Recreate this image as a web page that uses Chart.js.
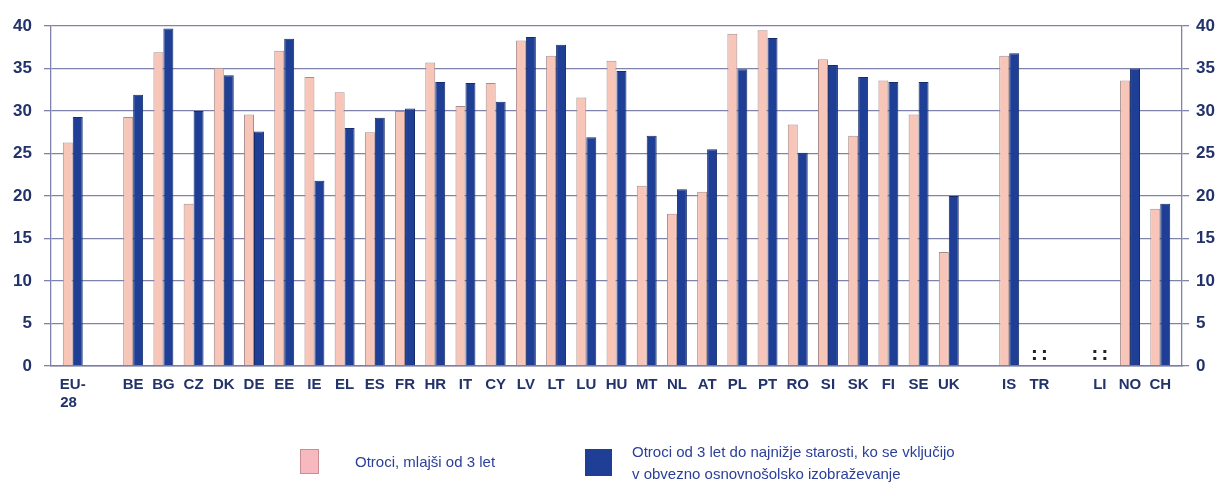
<!DOCTYPE html>
<html>
<head>
<meta charset="utf-8">
<script src="https://cdn.jsdelivr.net/npm/chart.js@4/dist/chart.umd.min.js"></script>
<style>
  html, body { margin: 0; padding: 0; background: #fff; }
  #wrap { position: relative; width: 1225px; height: 482px; overflow: hidden; }
  #chart { position: absolute; left: 0; top: 0; }
  .legend-box { position: absolute; box-sizing: border-box; }
  .legend-text { position: absolute; font-family: "Liberation Sans", Arial, sans-serif; font-size: 15px; color: #2b3f99; line-height: 22px; white-space: nowrap; }
</style>
</head>
<body>
<div id="wrap">
  <canvas id="chart" width="1225" height="482"></canvas>
  <div class="legend-box" style="left:300px; top:449px; width:19px; height:25px; background:#f7b9bd; border:1px solid #c98d95;"></div>
  <div class="legend-text" style="left:355px; top:451px;">Otroci, mlajši od 3 let</div>
  <div class="legend-box" style="left:585px; top:449px; width:27px; height:27px; background:#1f3f96;"></div>
  <div class="legend-text" style="left:632px; top:441px;">Otroci od 3 let do najnižje starosti, ko se vključijo<br>v obvezno osnovnošolsko izobraževanje</div>
</div>
<script>
// categories ("" = empty slot between groups)
const countries = [
  ["EU-", "28  "], "", "BE", "BG", "CZ", "DK", "DE", "EE", "IE", "EL", "ES", "FR", "HR", "IT", "CY",
  "LV", "LT", "LU", "HU", "MT", "NL", "AT", "PL", "PT", "RO", "SI", "SK", "FI", "SE", "UK",
  "", "IS", "TR", "", "LI", "NO", "CH"
];

// otroci, mlajši od 3 let
const under3 = [
  26.3, null, 29.3, 36.9, 19.1, 35.1, 29.6, 37.1, 34.0, 32.2, 27.5, 30.0, 35.7, 30.6, 33.3,
  38.3, 36.5, 31.6, 35.9, 21.2, 17.9, 20.5, 39.1, 39.5, 28.4, 36.1, 27.1, 33.6, 29.6, 13.4,
  null, 36.5, null, null, null, 33.6, 18.5
];

// otroci od 3 let do vstopa v obvezno osnovnošolsko izobraževanje
const from3 = [
  29.3, null, 31.9, 39.7, 30.0, 34.2, 27.6, 38.5, 21.8, 28.0, 29.2, 30.3, 33.4, 33.3, 31.1,
  38.7, 37.8, 26.9, 34.7, 27.1, 20.8, 25.5, 34.9, 38.6, 25.1, 35.4, 34.0, 33.4, 33.4, 20.0,
  null, 36.8, null, null, null, 35.0, 19.1
];

// countries with no data (":")
const notAvailable = ["TR", "LI"];

const yTicks = [0, 5, 10, 15, 20, 25, 30, 35, 40];

const TICK_COLOR = "#22326a";
const GRID_COLOR = "#7f83ab";
const FONT = "'Liberation Sans', Arial, sans-serif";

// bars sit on a numeric x axis so the plot can keep a little space at both ends
const toPoints = (arr) => arr.map((v, i) => ({ x: i, y: v }));

// draws the ": :" marks for missing data
const missingMarks = {
  id: "missingMarks",
  afterDatasetsDraw(chart) {
    const ctx = chart.ctx;
    const x = chart.scales.x;
    const y = chart.scales.y;
    ctx.save();
    ctx.fillStyle = "#222";
    countries.forEach((c, i) => {
      if (!notAvailable.includes(c)) return;
      const px = x.getPixelForValue(i);
      const py = y.getPixelForValue(0) - 11;
      [-5, 5].forEach((dx) => {
        [-3.5, 3.5].forEach((dy) => {
          ctx.fillRect(px + dx - 1.5, py + dy - 1.5, 3, 3);
        });
      });
    });
    ctx.restore();
  },
};

const ctx = document.getElementById("chart").getContext("2d");
new Chart(ctx, {
  type: "bar",
  data: {
    datasets: [
      {
        label: "Otroci, mlajši od 3 let",
        data: toPoints(under3),
        backgroundColor: "#f8c5b9",
        borderColor: "#a98c8a",
        borderWidth: 1,
        categoryPercentage: 0.66,
        barPercentage: 1.0,
      },
      {
        label: "Otroci od 3 let do najnižje starosti, ko se vključijo v obvezno osnovnošolsko izobraževanje",
        data: toPoints(from3),
        backgroundColor: "#1f3f96",
        borderColor: "#172c6a",
        borderWidth: 1,
        categoryPercentage: 0.66,
        barPercentage: 1.0,
      },
    ],
  },
  options: {
    responsive: false,
    animation: false,
    layout: { padding: { top: 26, left: 0, right: 0, bottom: 0 } },
    plugins: { legend: { display: false }, tooltip: { enabled: false } },
    scales: {
      x: {
        type: "linear",
        min: -0.72,
        max: countries.length - 1 + 0.72,
        offset: false,
        afterBuildTicks(scale) { scale.ticks = countries.map((c, i) => ({ value: i })); },
        grid: { display: false, drawTicks: false },
        border: { display: true, color: "#7a7d9c", width: 1.5 },
        ticks: {
          autoSkip: false,
          maxRotation: 0,
          minRotation: 0,
          padding: 10,
          color: TICK_COLOR,
          font: { family: FONT, size: 15, weight: "bold" },
          callback: (value) => countries[value],
        },
        afterFit(scale) { scale.height = 116; },
      },
      y: {
        position: "left",
        min: 0,
        max: 40,
        afterBuildTicks(scale) { scale.ticks = yTicks.map((v) => ({ value: v })); },
        grid: { color: GRID_COLOR, lineWidth: 1.3, tickLength: 7 },
        border: { display: true, color: GRID_COLOR, width: 1.3 },
        ticks: {
          padding: 12,
          color: TICK_COLOR,
          font: { family: FONT, size: 17, weight: "bold" },
        },
        afterFit(scale) { scale.width = 51; },
      },
      y2: {
        position: "right",
        min: 0,
        max: 40,
        afterBuildTicks(scale) { scale.ticks = yTicks.map((v) => ({ value: v })); },
        grid: { drawOnChartArea: false, color: GRID_COLOR, lineWidth: 1.3, tickLength: 7 },
        border: { display: true, color: GRID_COLOR, width: 1.3 },
        ticks: {
          padding: 7,
          color: TICK_COLOR,
          font: { family: FONT, size: 17, weight: "bold" },
        },
        afterFit(scale) { scale.width = 43; },
      },
    },
  },
  plugins: [missingMarks],
});
</script>
</body>
</html>
